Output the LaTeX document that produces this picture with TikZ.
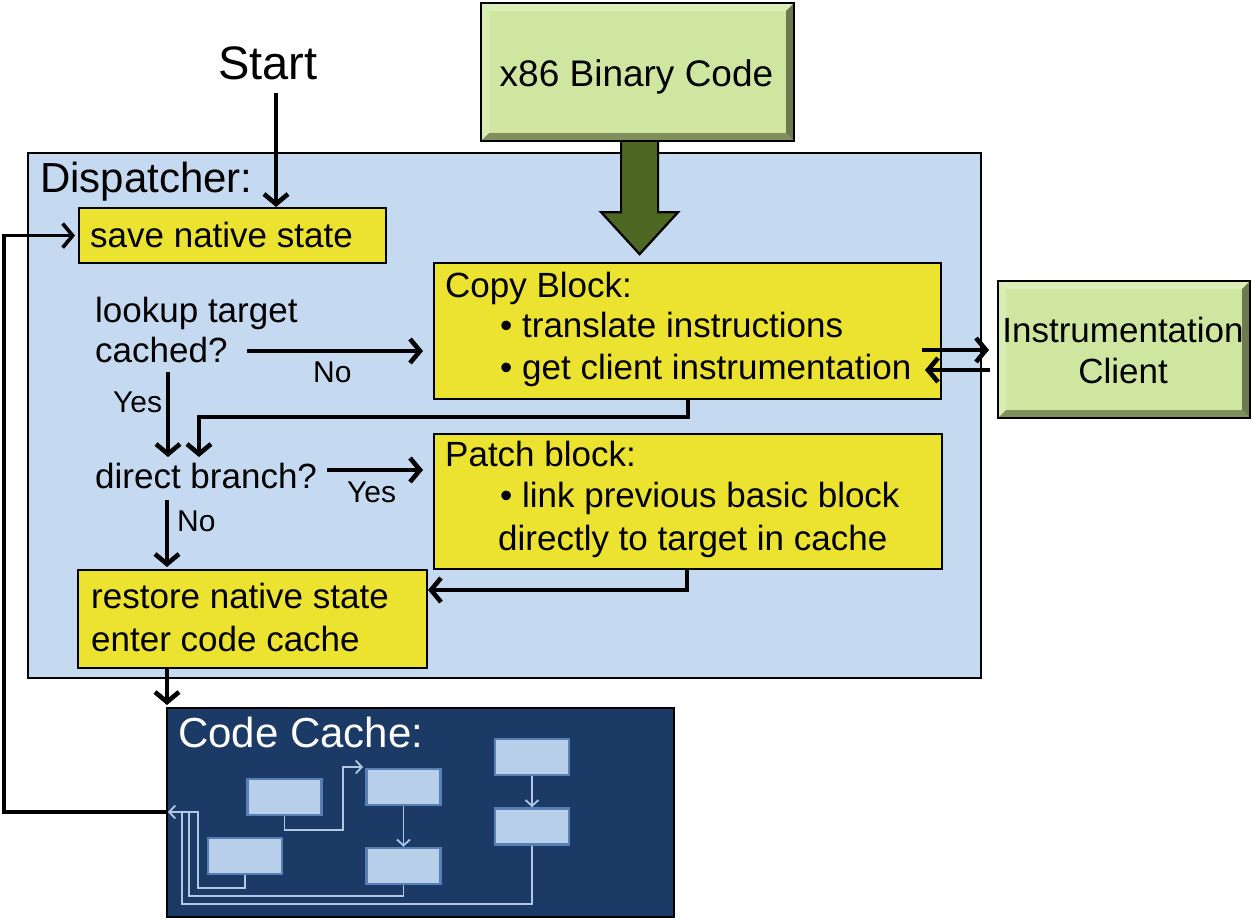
\documentclass[tikz,border=0pt]{standalone}
\usepackage{fontspec}
\setmainfont{Liberation Sans}
\usetikzlibrary{arrows.meta,calc}
\definecolor{dispfill}{RGB}{197,217,240}
\definecolor{yfill}{RGB}{236,226,48}
\definecolor{grnfill}{RGB}{207,230,160}
\definecolor{grnlite}{RGB}{219,237,184}
\definecolor{grndark}{RGB}{128,143,94}
\definecolor{grnarrow}{RGB}{78,103,34}
\definecolor{cachefill}{RGB}{28,58,102}
\definecolor{cboxfill}{RGB}{183,207,232}
\definecolor{cboxglow}{RGB}{88,128,180}
\definecolor{cline}{RGB}{176,200,228}
\tikzset{
  txt/.style={inner sep=0pt, anchor=base west, font=\fontsize{35}{42}\selectfont},
  lbl/.style={inner sep=0pt, anchor=base west, font=\fontsize{30}{36}\selectfont},
  ybox/.style={draw=black, line width=2.2pt, fill=yfill, anchor=north west, inner sep=0pt},
  greenbox/.style={draw=black, line width=2.2pt, fill=grnfill, anchor=north west, inner sep=0pt,
    path picture={
      \fill[grnlite] (path picture bounding box.north west) -- (path picture bounding box.north east)
        -- ([shift={(-8pt,-8pt)}]path picture bounding box.north east)
        -- ([shift={(8pt,-8pt)}]path picture bounding box.north west) -- cycle;
      \fill[grnlite!90!grnfill] (path picture bounding box.north west) -- (path picture bounding box.south west)
        -- ([shift={(8pt,8pt)}]path picture bounding box.south west)
        -- ([shift={(8pt,-8pt)}]path picture bounding box.north west) -- cycle;
      \fill[grndark] (path picture bounding box.south west) -- (path picture bounding box.south east)
        -- ([shift={(-8pt,8pt)}]path picture bounding box.south east)
        -- ([shift={(8pt,8pt)}]path picture bounding box.south west) -- cycle;
      \fill[grndark!85!black] (path picture bounding box.north east) -- (path picture bounding box.south east)
        -- ([shift={(-8pt,8pt)}]path picture bounding box.south east)
        -- ([shift={(-8pt,-8pt)}]path picture bounding box.north east) -- cycle;
    }},
  cbox/.style={draw=cboxglow, line width=2.5pt, fill=cboxfill, minimum width=74pt, minimum height=36pt, inner sep=0pt},
  blkarrow/.style={draw=black, line width=4.6pt, -{Straight Barb[length=10pt,width=24pt]}},
  blkline/.style={draw=black, line width=4.6pt},
  larrow/.style={draw=cline, line width=1.8pt, -{Straight Barb[length=6pt,width=13pt]}},
  lline/.style={draw=cline, line width=1.8pt},
}
\begin{document}
\begin{tikzpicture}[x=1pt,y=-1pt]
\useasboundingbox[fill=white] (0,0) rectangle (1252,920);

% main containers
\node[draw=black, line width=2.2pt, fill=dispfill, anchor=north west, minimum width=953pt, minimum height=525pt, inner sep=0pt] (disp) at (27,152) {};
\node[txt, font=\fontsize{42}{48}\selectfont] (dispT) at (40,193) {Dispatcher:};

\node[draw=black, line width=2.2pt, fill=cachefill, anchor=north west, minimum width=507pt, minimum height=209pt, inner sep=0pt] (cache) at (166,707) {};
\node[txt, font=\fontsize{42}{48}\selectfont, text=white] (cacheT) at (178,747) {Code Cache:};

% green boxes
\node[greenbox, minimum width=313pt, minimum height=138pt] (x86) at (480,2) {};
\node[inner sep=0pt, anchor=base, font=\fontsize{37}{44}\selectfont] (x86T) at (636.5,87) {x86 Binary Code};
\node[greenbox, minimum width=252pt, minimum height=137pt] (inst) at (997,280) {};
\node[inner sep=0pt, anchor=base, font=\fontsize{35}{42}\selectfont] (instT1) at (1123,342) {Instrumentation};
\node[inner sep=0pt, anchor=base, font=\fontsize{35}{42}\selectfont] (instT2) at (1123,383) {Client};

% big arrow
\draw[fill=grnarrow, draw=black, line width=2.2pt, line join=miter]
  ($(x86.south)+(-16.5,0)$) -- ($(x86.south)+(-16.5,70)$) -- ($(x86.south)+(-36.5,70)$)
  -- ($(x86.south)+(2,112)$) -- ($(x86.south)+(40.5,70)$) -- ($(x86.south)+(20.5,70)$)
  -- ($(x86.south)+(20.5,0)$);

% start
\node[inner sep=0pt, anchor=base, font=\fontsize{47}{54}\selectfont] (start) at (268,80) {Start};

% yellow boxes
\node[ybox, minimum width=307pt, minimum height=55pt] (save) at (78,207) {};
\node[txt] (saveT) at (90,247) {save native state};

\node[ybox, minimum width=507pt, minimum height=136pt] (copy) at (433,262) {};
\node[txt] (copyT1) at (445,297) {Copy Block:};
\node[txt] (copyT2) at (500,337) {• translate instructions};
\node[txt] (copyT3) at (500,379) {• get client instrumentation};

\node[ybox, minimum width=508pt, minimum height=135pt] (patch) at (433,433) {};
\node[txt] (patchT1) at (445,466) {Patch block:};
\node[txt] (patchT2) at (500,507) {• link previous basic block};
\node[txt] (patchT3) at (498,550) {directly to target in cache};

\node[ybox, minimum width=349pt, minimum height=98pt] (restore) at (77,569) {};
\node[txt] (restT1) at (91,608) {restore native state};
\node[txt] (restT2) at (91,651) {enter code cache};

% decision texts
\node[txt] (look1) at (95,322) {lookup target};
\node[txt] (look2) at (95,362) {cached?};
\node[txt] (direct) at (95,488) {direct branch?};

% labels
\node[lbl] (lNo1) at (313,382) {No};
\node[lbl] (lYes1) at (113,412) {Yes};
\node[lbl] (lYes2) at (347,502) {Yes};
\node[lbl] (lNo2) at (177,531) {No};

% coordinates for connectors
\coordinate (sA) at (276,93);
\coordinate (noA) at (247,351);
\coordinate (yesA) at (168,372);
\coordinate (cpA) at (688,398);
\coordinate (cpB) at (199,417);
\coordinate (dyA) at (327,470);
\coordinate (dnA) at (167,500);
\coordinate (paA) at (687,568);
\coordinate (paB) at (428,590);
\coordinate (reA) at (167,667);
\coordinate (icA) at (922,350);
\coordinate (icB) at (990,370);
\coordinate (ret) at (4,812);

% black connectors
\draw[blkarrow] (sA) -- (sA |- save.north);
\draw[blkarrow, shorten >=10pt] (noA) -- (noA -| copy.west);
\draw[blkarrow] (yesA) -- (168,457);
\draw[blkarrow] (cpA) -- (cpA |- cpB) -- (cpB) -- (199,457);
\draw[blkarrow, shorten >=10pt] (dyA) -- (dyA -| patch.west);
\draw[blkarrow, shorten >=2pt] (dnA) -- (dnA |- restore.north);
\draw[blkarrow] (paA) -- (paA |- paB) -- (paB);
\draw[blkarrow, shorten >=2pt] (reA) -- (reA |- cache.north);
\draw[blkarrow, shorten >=8pt] (icA) -- (icA -| inst.west);
\draw[blkarrow] (icB) -- (925,370);
\draw[blkarrow, line width=3.6pt, shorten >=3pt] (ret -| cache.west) -- (ret) |- (save.west);

% code cache blocks
\node[cbox] (b1) at (284.5,797) {};
\node[cbox] (b2) at (403.5,787) {};
\node[cbox] (b3) at (532,757) {};
\node[cbox] (b4) at (245,856) {};
\node[cbox] (b5) at (403.5,866) {};
\node[cbox] (b6) at (532,826.5) {};
\coordinate (cret) at (168,812);

\draw[larrow] (b1.south) -- (284.5,830) -- (343,830) -- (343,767) -- (363,767);
\draw[larrow] (b2.south) -- (b5.north);
\draw[larrow] (b3.south) -- (b6.north);
\draw[lline] (b6.south) -- (532,904) -- (182,904) -- (182,812);
\draw[lline] (b5.south) -- (403.5,896) -- (189,896) -- (189,812);
\draw[larrow] (b4.south) -- (245,888) -- (198,888) -- (198,812) -- (cret);
\end{tikzpicture}
\end{document}
